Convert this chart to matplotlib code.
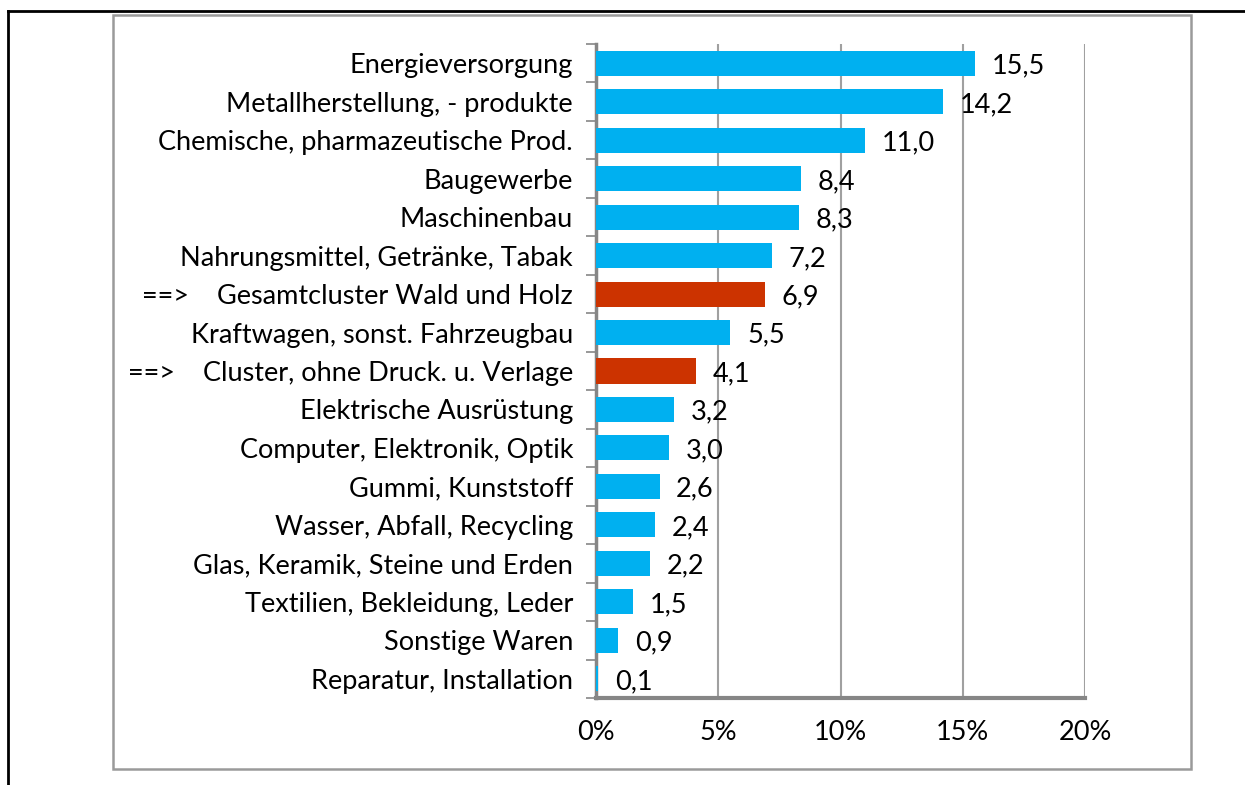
import matplotlib
matplotlib.use("Agg")
import matplotlib.pyplot as plt
from matplotlib.lines import Line2D
from matplotlib.patches import Rectangle

categories = [
    "Energieversorgung",
    "Metallherstellung, - produkte",
    "Chemische, pharmazeutische Prod.",
    "Baugewerbe",
    "Maschinenbau",
    "Nahrungsmittel, Getränke, Tabak",
    "==>    Gesamtcluster Wald und Holz",
    "Kraftwagen, sonst. Fahrzeugbau",
    "==>    Cluster, ohne Druck. u. Verlage",
    "Elektrische Ausrüstung",
    "Computer, Elektronik, Optik",
    "Gummi, Kunststoff",
    "Wasser, Abfall, Recycling",
    "Glas, Keramik, Steine und Erden",
    "Textilien, Bekleidung, Leder",
    "Sonstige Waren",
    "Reparatur, Installation",
]
values = [15.5, 14.2, 11.0, 8.4, 8.3, 7.2, 6.9, 5.5, 4.1, 3.2, 3.0, 2.6, 2.4, 2.2, 1.5, 0.9, 0.1]
highlight = [False, False, False, False, False, False, True, False, True,
             False, False, False, False, False, False, False, False]
xticks = [0, 5, 10, 15, 20]
xticklabels = ["0%", "5%", "10%", "15%", "20%"]

BLUE = "#00B0F0"
RED = "#CC3300"
FS = 19.5

plt.rcParams['font.family'] = ['Lato', 'DejaVu Sans']

W, H = 1245, 785
fig = plt.figure(figsize=(W / 100, H / 100), dpi=100)

# axes placement in pixels
x0, x1 = 596, 1085
y0, y1 = 44, 698
ax = fig.add_axes([x0 / W, 1 - y1 / H, (x1 - x0) / W, (y1 - y0) / H])

n = len(categories)
ypos = list(range(n))
colors = [RED if h else BLUE for h in highlight]
ax.barh(ypos, values, height=0.65, color=colors, zorder=3)
ax.set_ylim(n - 0.5, -0.5)
ax.set_xlim(0, 20)

ax.set_yticks(ypos)
ax.set_yticklabels(categories, fontsize=FS, color="#000000")
ax.set_xticks(xticks)
ax.set_xticklabels(xticklabels, fontsize=FS, color="#000000")

ax.tick_params(axis='y', length=0, pad=16.5)
ax.tick_params(axis='x', length=0, pad=16)

# minor ticks between categories on y axis
ax.set_yticks([i - 0.5 for i in range(n + 1)], minor=True)
ax.tick_params(axis='y', which='minor', length=7, color="#868686", width=1.2, direction='out')
ax.set_xticks([0, 5, 10, 15, 20], minor=True)
ax.tick_params(axis='x', which='minor', length=7, color="#868686", width=1.2, direction='out')

ax.grid(axis='x', which='major', color="#A0A0A0", linewidth=1.5, zorder=0)
for s in ["top", "right"]:
    ax.spines[s].set_visible(False)
ax.spines["left"].set_color("#868686")
ax.spines["left"].set_linewidth(2.5)
ax.spines["bottom"].set_color("#868686")
ax.spines["bottom"].set_linewidth(3)

for y, v in zip(ypos, values):
    ax.annotate(f"{v:.1f}".replace(".", ","), xy=(v, y), xytext=(12, -2),
                textcoords="offset points", va="center", ha="left",
                fontsize=FS, color="#000000", zorder=4)

# gray chart frame
fig.patches.append(Rectangle((113 / W, 1 - 769 / H), (1191 - 113) / W, (769 - 15) / H,
                             transform=fig.transFigure, fill=False,
                             edgecolor="#9A9A9A", linewidth=1.8))
# black outer lines (top and left)
fig.lines.append(Line2D([8 / W, 1], [1 - 11 / H, 1 - 11 / H], transform=fig.transFigure,
                        color="black", linewidth=2))
fig.lines.append(Line2D([8 / W, 8 / W], [0, 1 - 11 / H], transform=fig.transFigure,
                        color="black", linewidth=2))

fig.savefig("out.png", dpi=100)
